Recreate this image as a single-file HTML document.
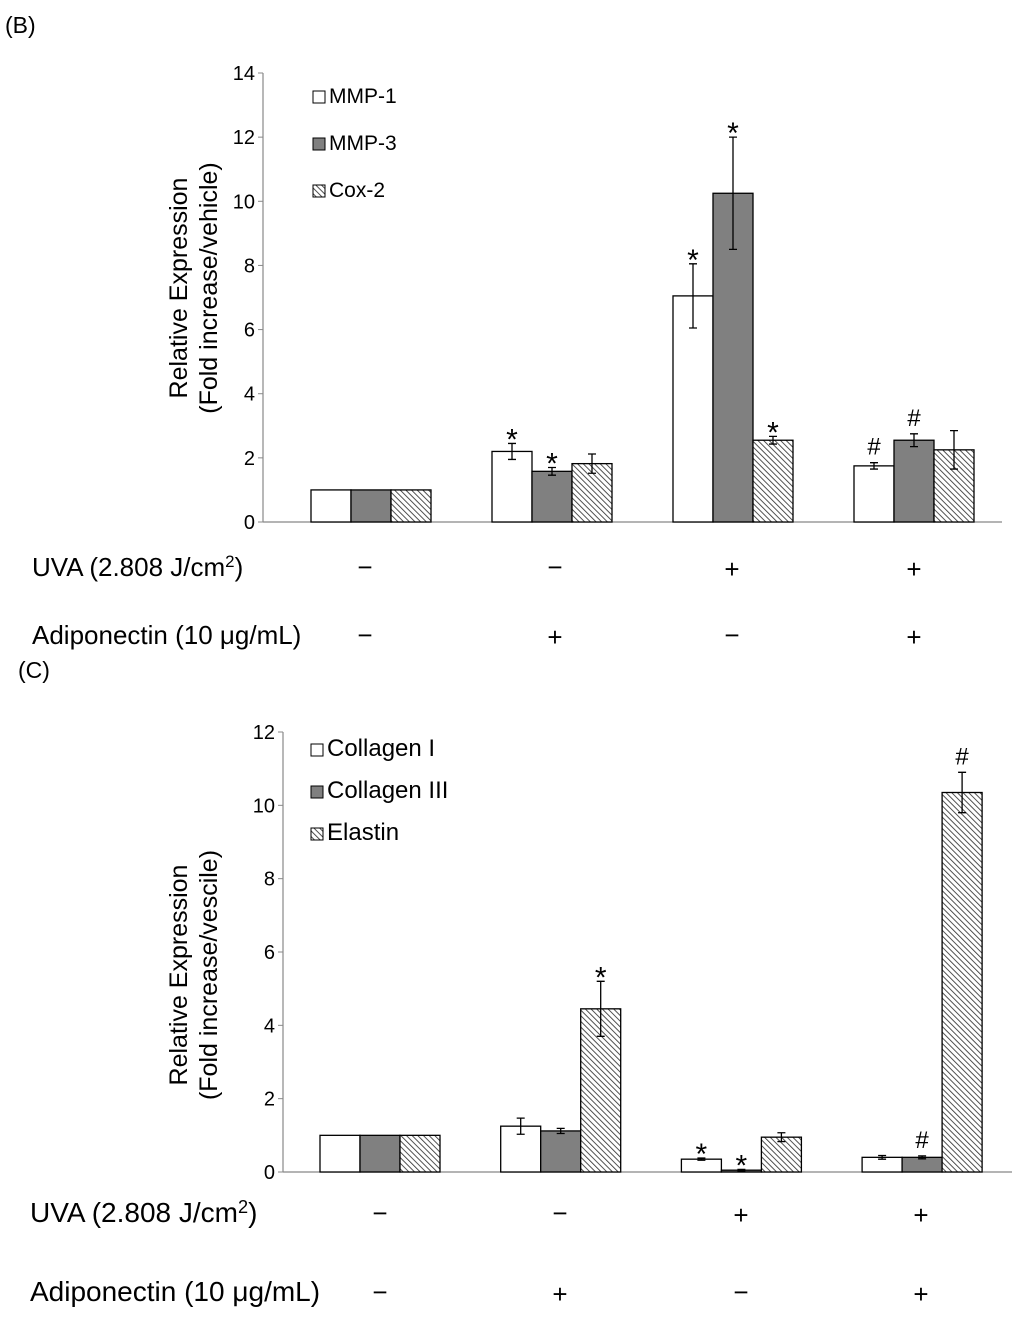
<!DOCTYPE html>
<html><head><meta charset="utf-8"><style>
body{margin:0;background:#fff;}
svg{display:block;font-family:"Liberation Sans",Arial,sans-serif;}
</style></head><body>
<svg id="fig" width="1024" height="1317" viewBox="0 0 1024 1317" xmlns="http://www.w3.org/2000/svg">
<defs>
<pattern id="hatch" patternUnits="userSpaceOnUse" width="4" height="4" patternTransform="rotate(-45)">
<rect width="4" height="4" fill="#fff"/><line x1="0" y1="0" x2="0" y2="4" stroke="#333" stroke-width="1.7"/>
</pattern>
</defs>
<text x="5" y="33" font-size="23">(B)</text>
<text x="18" y="678" font-size="23">(C)</text>
</svg>
<script>
// Panel B data
const bCategories = ["Vehicle","Adiponectin","UVA","UVA+Adiponectin"];
const bSeriesNames = ["MMP-1","MMP-3","Cox-2"];
const bMMP1 = [1, 2.2, 7.05, 1.75];
const bMMP1Err = [0, 0.25, 1.0, 0.1];
const bMMP3 = [1, 1.58, 10.25, 2.55];
const bMMP3Err = [0, 0.12, 1.75, 0.2];
const bCox2 = [1, 1.82, 2.55, 2.25];
const bCox2Err = [0, 0.3, 0.12, 0.6];
const bTicks = [0,2,4,6,8,10,12,14];
const bMarks = [["","",""],["*","*",""],["*","*","*"],["#","#",""]];
// Panel C data
const cCategories = ["Vehicle","Adiponectin","UVA","UVA+Adiponectin"];
const cSeriesNames = ["Collagen I","Collagen III","Elastin"];
const cCol1 = [1, 1.25, 0.35, 0.4];
const cCol1Err = [0, 0.22, 0.03, 0.05];
const cCol3 = [1, 1.12, 0.05, 0.4];
const cCol3Err = [0, 0.07, 0.02, 0.04];
const cElastin = [1, 4.45, 0.95, 10.35];
const cElastinErr = [0, 0.75, 0.12, 0.55];
const cTicks = [0,2,4,6,8,10,12];
const cMarks = [["","",""],["","","*"],["*","*",""],["","#","#"]];
const uvaSigns = ["−","−","+","+"];
const adipoSigns = ["−","+","−","+"];

const NS="http://www.w3.org/2000/svg";
const svg=document.getElementById('fig');
function mk(tag,attrs,parent){const e=document.createElementNS(NS,tag);for(const k in attrs)e.setAttribute(k,attrs[k]);(parent||svg).appendChild(e);return e;}
const fills=["#ffffff","#808080","url(#hatch)"];

function drawPanel(o){
  const g=mk('g',{});
  
  
  const y=v=>o.y0-(v/o.ymax)*(o.y0-o.ytop);
  const xc=i=>o.c0+i*o.step;
  const ya=mk('line',{x1:o.ax,y1:o.ytop,x2:o.ax,y2:o.y0,stroke:'#888','stroke-width':1.2},g);
  
  
  const xa=mk('line',{x1:o.ax,y1:o.y0,x2:o.axEnd,y2:o.y0,stroke:'#888','stroke-width':1.2},g);
  
  
  o.ticks.forEach(t=>{
    mk('line',{x1:o.ax-5,y1:y(t),x2:o.ax,y2:y(t),stroke:'#888'},g);
    const tx=mk('text',{x:o.ax-8,y:y(t)+7,'font-size':20,'text-anchor':'end'},g);
    tx.textContent=t;
    
    
  });
  const tt=mk('text',{transform:`translate(${o.titleX},${o.titleY}) rotate(-90)`,'font-size':25,'text-anchor':'middle'},g);
  
  
  const t1=mk('tspan',{x:0,dy:0},tt);t1.textContent='Relative Expression';
  const t2=mk('tspan',{x:0,dy:30},tt);t2.textContent=o.title2;
  const bw=40;
  o.series.forEach((s,si)=>{
    s.vals.forEach((v,i)=>{
      const x=xc(i)+(si-1)*bw-bw/2;
      const r=mk('rect',{x:x,y:y(v),width:bw,height:o.y0-y(v),fill:fills[si],stroke:'#000','stroke-width':1.3},g);
      
      
      const e=s.err[i];
      const cx=x+bw/2;
      if(e>0){
        const eb=mk('path',{d:`M${cx},${y(v+e)}V${y(v-e)}M${cx-4},${y(v+e)}H${cx+4}M${cx-4},${y(v-e)}H${cx+4}`,stroke:'#000','stroke-width':1.3,fill:'none'},g);
        
        
      }
      const m=o.marks[i][si];
      if(m){
        const mt=mk('text',{x:cx,y:m=='*'?y(v+e)+6:y(v+e)-8,'font-size':m=='*'?30:24,'text-anchor':'middle'},g);
        mt.textContent=m;
        
        
      }
    });
  });
  o.series.forEach((s,si)=>{
    const ly=o.legY+si*o.legGap;
    const sq=mk('rect',{x:o.legX,y:ly-12,width:12,height:12,fill:fills[si],stroke:'#000','stroke-width':1},g);
    
    
    const lt=mk('text',{x:o.legX+16,y:ly,'font-size':o.legFont},g);
    lt.textContent=s.label;
    
    
  });
  const rows=[[o.uvaY,'uva',uvaSigns],[o.adY,'adiponectin',adipoSigns]];
  rows.forEach(([ry,key,signs])=>{
    const lab=mk('text',{x:o.rowLabelX,y:ry,'font-size':o.rowFont},g);
    
    
    if(key=='uva'){lab.textContent='UVA (2.808 J/cm';const sp=mk('tspan',{'font-size':o.rowFont*0.65,dy:-9},lab);sp.textContent='2';const sp2=mk('tspan',{dy:9},lab);sp2.textContent=')';}
    else lab.textContent='Adiponectin (10 μg/mL)';
    signs.forEach((sg,i)=>{
      const st=mk('text',{x:o.signX[i],y:ry+(sg=='+'?2:0),'font-size':26,'text-anchor':'middle'},g);
      st.textContent=sg;
      
      
    });
  });
}

drawPanel({name:'chart-b',y0:522,ytop:73,ymax:14,ax:263,axEnd:1002,c0:371,step:181,ticks:bTicks,
  titleX:187,titleY:288,title2:'(Fold increase/vehicle)',
  series:[{key:'mmp1',label:bSeriesNames[0],vals:bMMP1,err:bMMP1Err},{key:'mmp3',label:bSeriesNames[1],vals:bMMP3,err:bMMP3Err},{key:'cox2',label:bSeriesNames[2],vals:bCox2,err:bCox2Err}],
  marks:bMarks,legX:313,legY:103,legGap:47,legFont:21,rowFont:26,
  uvaY:576,adY:644,rowLabelX:32,signX:[365,555,732,914]});

drawPanel({name:'chart-c',y0:1172,ytop:732,ymax:12,ax:283,axEnd:1012,c0:380,step:180.7,ticks:cTicks,
  titleX:187,titleY:975,title2:'(Fold increase/vescile)',
  series:[{key:'collagen1',label:cSeriesNames[0],vals:cCol1,err:cCol1Err},{key:'collagen3',label:cSeriesNames[1],vals:cCol3,err:cCol3Err},{key:'elastin',label:cSeriesNames[2],vals:cElastin,err:cElastinErr}],
  marks:cMarks,legX:311,legY:756,legGap:42,legFont:24,rowFont:28,
  uvaY:1222,adY:1301,rowLabelX:30,signX:[380,560,741,921]});
</script>
</body></html>
